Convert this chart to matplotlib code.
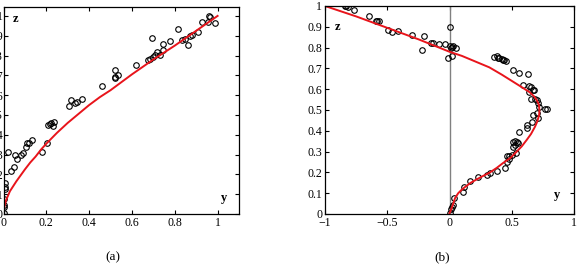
import matplotlib
matplotlib.use('Agg')
import matplotlib.pyplot as plt

plt.rcParams['font.family'] = ['Liberation Serif', 'DejaVu Serif']
plt.rcParams['axes.unicode_minus'] = True

# panel (a): measured points (y, z)
a_y = [0.958, 0.963, 0.925, 0.953, 0.986, 0.907, 0.813, 0.776, 0.836, 0.86,
       0.869, 0.879, 0.85, 0.692, 0.743, 0.743, 0.715, 0.706, 0.696, 0.682,
       0.673, 0.729, 0.621, 0.519, 0.519, 0.523, 0.533, 0.458, 0.369, 0.341,
       0.332, 0.313, 0.304, 0.206, 0.215, 0.224, 0.234, 0.229, 0.201, 0.182,
       0.131, 0.121, 0.112, 0.103, 0.089, 0.084, 0.065, 0.056, 0.047, 0.033,
       0.023, 0.009, 0.009, 0.009, 0.0, 0.0, 0.0, 0.0]
a_z = [1.0, 0.995, 0.97, 0.97, 0.965, 0.919, 0.934, 0.874, 0.879, 0.854,
       0.899, 0.904, 0.884, 0.889, 0.859, 0.828, 0.818, 0.803, 0.793, 0.783,
       0.778, 0.803, 0.753, 0.727, 0.687, 0.692, 0.702, 0.646, 0.581, 0.566,
       0.561, 0.576, 0.545, 0.449, 0.455, 0.46, 0.465, 0.444, 0.359, 0.313,
       0.374, 0.359, 0.359, 0.338, 0.308, 0.298, 0.278, 0.298, 0.237, 0.217,
       0.313, 0.157, 0.136, 0.126, 0.076, 0.045, 0.035, 0.005]

# panel (a): model curve
a_fit_y = [0, 0.002, 0.006, 0.012, 0.02, 0.03, 0.045, 0.06, 0.08, 0.1, 0.125,
           0.15, 0.175, 0.2, 0.25, 0.3, 0.35, 0.4, 0.45, 0.5, 0.6, 0.7, 0.8,
           0.9, 1.0]
a_fit_z = [0, 0.025, 0.045, 0.07, 0.09, 0.115, 0.14, 0.165, 0.195, 0.225, 0.26,
           0.29, 0.325, 0.355, 0.41, 0.46, 0.505, 0.55, 0.59, 0.625, 0.705, 0.78,
           0.85, 0.925, 1.0]

# panel (b): measured points (y, z)
b_y = [-0.84, -0.83, -0.815, -0.77, -0.645, -0.59, -0.58, -0.57, -0.49, -0.465,
       -0.415, -0.30, -0.205, -0.22, -0.15, -0.13, -0.085, -0.035, 0.0, 0.0,
       0.015, 0.025, 0.02, 0.05, -0.01, 0.02, 0.36, 0.38, 0.39, 0.40,
       0.42, 0.43, 0.44, 0.45, 0.51, 0.56, 0.63, 0.59, 0.64, 0.655,
       0.67, 0.68, 0.64, 0.655, 0.685, 0.70, 0.71, 0.715, 0.765, 0.78,
       0.70, 0.67, 0.71, 0.665, 0.625, 0.625, 0.56, 0.51, 0.525, 0.54,
       0.55, 0.51, 0.525, 0.535, 0.50, 0.48, 0.46, 0.48, 0.46, 0.445,
       0.38, 0.325, 0.30, 0.23, 0.165, 0.115, 0.11, 0.035, 0.03, 0.02,
       0.01, 0.0]
b_z = [1.0, 1.0, 0.995, 0.98, 0.95, 0.93, 0.93, 0.93, 0.885, 0.875,
       0.88, 0.86, 0.855, 0.79, 0.82, 0.82, 0.815, 0.815, 0.90, 0.81,
       0.80, 0.81, 0.805, 0.80, 0.75, 0.76, 0.755, 0.76, 0.75, 0.75,
       0.745, 0.74, 0.74, 0.735, 0.69, 0.68, 0.675, 0.62, 0.615, 0.61,
       0.595, 0.595, 0.585, 0.555, 0.555, 0.55, 0.535, 0.515, 0.505, 0.505,
       0.485, 0.476, 0.46, 0.44, 0.43, 0.415, 0.395, 0.345, 0.35, 0.345,
       0.34, 0.32, 0.33, 0.293, 0.283, 0.28, 0.28, 0.265, 0.25, 0.22,
       0.207, 0.197, 0.187, 0.178, 0.158, 0.13, 0.106, 0.077, 0.043, 0.034,
       0.024, 0.005]

# panel (b): model curve
b_fit_y = [-1, -0.75, -0.5, -0.25, 0, 0.1, 0.2, 0.32, 0.42, 0.5, 0.58, 0.645,
           0.68, 0.70, 0.715, 0.72, 0.722, 0.72, 0.705, 0.687, 0.655, 0.62,
           0.58, 0.54, 0.49, 0.43, 0.38, 0.325, 0.27, 0.22, 0.17, 0.125,
           0.095, 0.07, 0.045, 0.03, 0.015, 0]
b_fit_z = [1.0, 0.95, 0.895, 0.84, 0.78, 0.76, 0.735, 0.705, 0.67, 0.64, 0.61,
           0.585, 0.565, 0.548, 0.53, 0.516, 0.496, 0.476, 0.445, 0.42, 0.385,
           0.356, 0.325, 0.30, 0.27, 0.245, 0.222, 0.20, 0.183, 0.167, 0.15,
           0.13, 0.115, 0.10, 0.077, 0.05, 0.025, 0.003]

fig = plt.figure(figsize=(5.82, 2.78), dpi=100)
ax1 = fig.add_axes([3.5 / 582, 64 / 278, 235.5 / 582, 207 / 278])
ax2 = fig.add_axes([325 / 582, 64 / 278, 249 / 582, 208 / 278])

for ax in (ax1, ax2):
    ax.tick_params(direction='in', top=True, right=True, labelsize=8.5,
                   length=3, width=0.8, pad=2)
    for s in ax.spines.values():
        s.set_linewidth(0.9)
ax1.tick_params(axis='y', pad=0.5)

ax1.plot(a_y, a_z, 'o', mfc='none', mec='black', ms=4, mew=0.8)
ax1.plot(a_fit_y, a_fit_z, color='#e8141b', lw=1.4)
ax1.set_xlim(0, 1.1)
ax1.set_ylim(0, 1.045)
ax1.set_xticks([0, 0.2, 0.4, 0.6, 0.8, 1])
ax1.set_xticklabels(['0', '0.2', '0.4', '0.6', '0.8', '1'])
ax1.set_yticks([i / 10 for i in range(11)])
ax1.set_yticklabels(['0'] + ['0.%d' % i for i in range(1, 10)] + ['1'])
ax1.text(0.056, 0.985, 'z', fontsize=9, fontweight='bold', ha='center', va='center')
ax1.text(1.03, 0.08, 'y', fontsize=9, fontweight='bold', ha='center', va='center')

ax2.axvline(0, color='#808080', lw=1)
ax2.plot(b_y, b_z, 'o', mfc='none', mec='black', ms=4, mew=0.8)
ax2.plot(b_fit_y, b_fit_z, color='#e8141b', lw=1.4)
ax2.set_xlim(-1, 1)
ax2.set_ylim(0, 1)
ax2.set_xticks([-1, -0.5, 0, 0.5, 1])
ax2.set_xticklabels(['\u22121', '\u22120.5', '0', '0.5', '1'])
ax2.set_yticks([i / 10 for i in range(11)])
ax2.set_yticklabels(['0'] + ['0.%d' % i for i in range(1, 10)] + ['1'])
ax2.text(-0.9, 0.9, 'z', fontsize=9, fontweight='bold', ha='center', va='center')
ax2.text(0.86, 0.09, 'y', fontsize=9, fontweight='bold', ha='center', va='center')

fig.text(113 / 582, 1 - 257 / 278, '(a)', fontsize=9.5, ha='center', va='center')
fig.text(442 / 582, 1 - 257 / 278, '(b)', fontsize=9.5, ha='center', va='center')

fig.savefig('out.png', dpi=100)
